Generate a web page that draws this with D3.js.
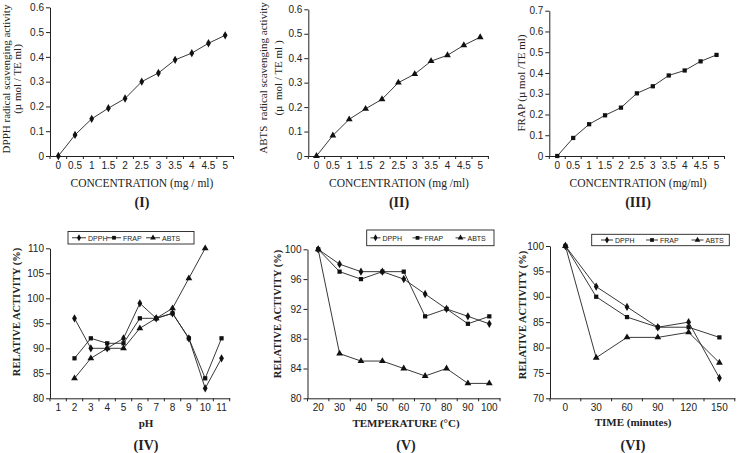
<!DOCTYPE html>
<html><head><meta charset="utf-8">
<script src="https://cdn.jsdelivr.net/npm/d3@7"></script>
<style>
html,body{margin:0;padding:0;background:#fff;}
svg{display:block;}
.tick text{font-family:"Liberation Sans",Arial,sans-serif;font-size:10px;fill:#222;}
.domain{stroke:#222;}
.tick line{stroke:#222;}
</style></head><body>
<svg id="c" width="741" height="453"></svg>
<script>
// ---- data ----
const concLabels = ["0","0.5","1","1.5","2","2.5","3","3.5","4","4.5","5"];
const dpphConc = [0,0.085,0.150,0.193,0.232,0.300,0.335,0.388,0.415,0.455,0.487];
const abtsConc = [0,0.084,0.150,0.193,0.232,0.300,0.335,0.388,0.412,0.453,0.486];
const frapConc = [0,0.087,0.153,0.196,0.233,0.302,0.336,0.388,0.412,0.456,0.487];

const phLabels = ["1","2","3","4","5","6","7","8","9","10","11"];
const phDPPH = [null,96,90,90,92,99,96,97,92,82,88];
const phFRAP = [null,88,92,91,91,96,96,97,92,84,92];
const phABTS = [null,84,88,90,90,94,96,98,104,110,null];

const tempLabels = ["20","30","40","50","60","70","80","90","100"];
const tempDPPH = [100,98,97,97,96,94,92,91,90];
const tempFRAP = [100,97,96,97,97,91,92,90,91];
const tempABTS = [100,86,85,85,84,83,84,82,82];

const timeLabels = ["0","30","60","90","120","150"];
const timeDPPH = [100,92,88,84,85,74];
const timeFRAP = [100,90,86,84,84,82];
const timeABTS = [100,78,82,82,83,77];

const seriesNames = ["DPPH","FRAP","ABTS"];

// ---- drawing ----
const svg = d3.select("#c");
const symbolFor = {DPPH:d3.symbolDiamond, FRAP:d3.symbolSquare, ABTS:d3.symbolTriangle};
const symSize = {DPPH:20, FRAP:18, ABTS:20};

function panel(o){
  const g = svg.append("g");
  const x = d3.scaleBand().domain(o.cats).range([o.left,o.right]).padding(0);
  const y = d3.scaleLinear().domain(o.yDomain).range([o.bottom,o.top]);
  g.append("g").attr("transform",`translate(${o.left},0)`)
    .call(d3.axisLeft(y).tickValues(o.yTicks).tickFormat(o.yFmt).tickSize(4).tickPadding(2).tickSizeOuter(0));
  g.append("g").attr("transform",`translate(0,${o.bottom})`)
    .call(d3.axisBottom(x).tickSize(0).tickPadding(6).tickSizeOuter(0));
  const bounds = o.cats.map(c=>x(c)).concat([o.right]);
  g.selectAll(null).data(bounds).enter().append("line")
    .attr("x1",d=>d).attr("x2",d=>d).attr("y1",o.bottom).attr("y2",o.bottom+3)
    .attr("stroke","#222");
  o.series.forEach(s=>{
    const pts = s.values.map((v,i)=>({c:o.cats[i],v})).filter(p=>p.v!==null);
    g.append("path").datum(pts)
      .attr("d",d3.line().x(p=>x(p.c)+x.bandwidth()/2).y(p=>y(p.v)))
      .attr("fill","none").attr("stroke","#222").attr("stroke-width",0.9);
    g.selectAll(null).data(pts).enter().append("path")
      .attr("d",d3.symbol().type(symbolFor[s.name]).size(symSize[s.name]))
      .attr("transform",p=>`translate(${x(p.c)+x.bandwidth()/2},${y(p.v)})`)
      .attr("fill","#111");
  });
  o.yTitle.forEach(t=>{
    g.append("text").attr("transform",`translate(${t.x},${o.yTitleY}) rotate(-90)`)
      .attr("text-anchor","middle").attr("dominant-baseline","central")
      .style("white-space","pre")
      .attr("font-family","Liberation Serif")
      .attr("font-weight",o.bold?"bold":"normal")
      .attr("font-size",o.yTitleSize).attr("fill","#222").text(t.text);
  });
  g.append("text").attr("x",o.xTitleX).attr("y",o.xTitleY)
    .attr("text-anchor","middle").attr("dominant-baseline","central")
    .attr("font-family","Liberation Serif").attr("font-weight",o.bold?"bold":"normal")
    .attr("font-size",o.xTitleSize).attr("fill","#222").text(o.xTitle);
  g.append("text").attr("x",o.xTitleX).attr("y",o.labelY)
    .attr("text-anchor","middle").attr("dominant-baseline","central")
    .attr("font-family","Liberation Serif").attr("font-weight","bold")
    .attr("font-size",14).attr("fill","#222").text(o.label);
  if(o.legend){
    const L = o.legend;
    g.append("rect").attr("x",L.x).attr("y",L.y).attr("width",L.w).attr("height",L.h)
      .attr("fill","#fff").attr("stroke","#222").attr("stroke-width",0.9);
    seriesNames.forEach((n,i)=>{
      const lx = L.items[i];
      const cy = L.y+L.h/2;
      g.append("line").attr("x1",lx).attr("x2",lx+L.seg).attr("y1",cy).attr("y2",cy)
        .attr("stroke","#222").attr("stroke-width",0.9);
      g.append("path").attr("d",d3.symbol().type(symbolFor[n]).size(14))
        .attr("transform",`translate(${lx+L.seg/2},${cy})`).attr("fill","#111");
      g.append("text").attr("x",lx+L.seg+2).attr("y",cy+0.5).attr("dominant-baseline","central")
        .attr("font-family","Liberation Sans").attr("font-size",7).attr("fill","#222").text(n);
    });
  }
}

const f1 = d3.format(".1f");
const fConc = d=> d===0?"0":f1(d);
const concTicks = [0,0.1,0.2,0.3,0.4,0.5,0.6];

panel({cats:concLabels,left:50,right:233.5,top:7.3,bottom:156,yDomain:[0,0.6],yTicks:concTicks,yFmt:fConc,
  series:[{name:"DPPH",values:dpphConc}],
  yTitle:[{x:6,text:"DPPH radical scavenging activity"},{x:17,text:"(µ mol / TE ml)"}],yTitleY:79,yTitleSize:11,
  xTitle:"CONCENTRATION (mg / ml)",xTitleX:142,xTitleY:183,xTitleSize:11.5,label:"(I)",labelY:202});

panel({cats:concLabels,left:308.3,right:488.4,top:9.3,bottom:156,yDomain:[0,0.6],yTicks:concTicks,yFmt:fConc,
  series:[{name:"ABTS",values:abtsConc}],
  yTitle:[{x:263,text:"ABTS  radical scavenging activity"},{x:278,text:"(µ  mol / TE ml )"}],yTitleY:78,yTitleSize:11,
  xTitle:"CONCENTRATION (mg /ml)",xTitleX:399,xTitleY:183,xTitleSize:11.5,label:"(II)",labelY:202});

panel({cats:concLabels,left:549.3,right:724.5,top:10.7,bottom:156,yDomain:[0,0.7],yTicks:[0,0.1,0.2,0.3,0.4,0.5,0.6,0.7],yFmt:fConc,
  series:[{name:"FRAP",values:frapConc}],
  yTitle:[{x:521,text:"FRAP (µ mol /TE ml)"}],yTitleY:83,yTitleSize:11,
  xTitle:"CONCENTRATION (mg/ml)",xTitleX:638,xTitleY:183,xTitleSize:11.5,label:"(III)",labelY:202});

panel({cats:phLabels,left:50,right:229.7,top:248.3,bottom:398.3,yDomain:[80,110],yTicks:[80,85,90,95,100,105,110],yFmt:d3.format("d"),
  series:[{name:"DPPH",values:phDPPH},{name:"FRAP",values:phFRAP},{name:"ABTS",values:phABTS}],
  yTitle:[{x:16,text:"RELATIVE ACTIVITY (%)"}],yTitleY:312,yTitleSize:10.5,bold:true,
  xTitle:"pH",xTitleX:146,xTitleY:423,xTitleSize:11,label:"(IV)",labelY:445,
  legend:{x:68,y:231.5,w:126,h:12.5,seg:14,items:[72,107,146]}});

panel({cats:tempLabels,left:307.5,right:500,top:249.3,bottom:398.3,yDomain:[80,100],yTicks:[80,84,88,92,96,100],yFmt:d3.format("d"),
  series:[{name:"DPPH",values:tempDPPH},{name:"FRAP",values:tempFRAP},{name:"ABTS",values:tempABTS}],
  yTitle:[{x:277,text:"RELATIVE ACTIVITY (%)"}],yTitleY:314,yTitleSize:10.5,bold:true,
  xTitle:"TEMPERATURE (°C)",xTitleX:406,xTitleY:423,xTitleSize:11,label:"(V)",labelY:445,
  legend:{x:366.7,y:230,w:127.3,h:15.7,seg:10,items:[370.5,412.5,455.5]}});

panel({cats:timeLabels,left:550,right:734.8,top:246,bottom:398.3,yDomain:[70,100],yTicks:[70,75,80,85,90,95,100],yFmt:d3.format("d"),
  series:[{name:"DPPH",values:timeDPPH},{name:"FRAP",values:timeFRAP},{name:"ABTS",values:timeABTS}],
  yTitle:[{x:522,text:"RELATIVE ACTIVITY (%)"}],yTitleY:315,yTitleSize:10.5,bold:true,
  xTitle:"TIME (minutes)",xTitleX:633,xTitleY:422,xTitleSize:11,label:"(VI)",labelY:445,
  legend:{x:591.7,y:234.3,w:137.6,h:11.4,seg:12,items:[601,646,691.5]}});
</script>
</body></html>
